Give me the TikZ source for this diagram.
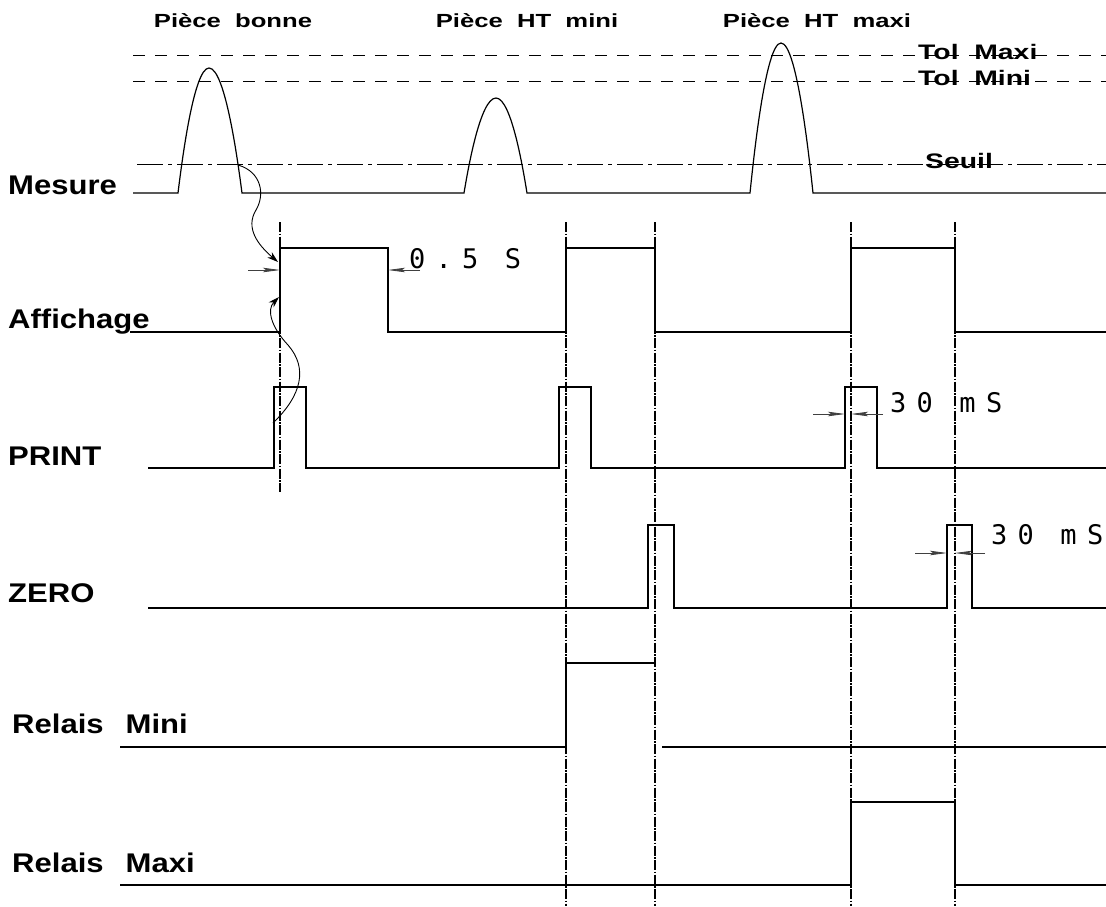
\documentclass[tikz,border=0pt]{standalone}
\usepackage{fontspec}
\newfontfamily\labfont{Liberation Sans}[FakeStretch=1.15]
\newfontfamily\topfont{Liberation Sans}[FakeStretch=1.35]
\newfontfamily\dimfont{DejaVu Sans Mono}[LetterSpace=38]
\usetikzlibrary{arrows.meta}

\begin{document}
\begin{tikzpicture}[x=1pt, y=-1pt,
  sig/.style={line width=1.2pt},
  tol/.style={line width=1pt, dash pattern=on 12pt off 10pt},
  seuil/.style={line width=1pt, dash pattern=on 26pt off 5pt on 4pt off 5pt},
  axe/.style={line width=1.5pt, dash pattern=on 10pt off 1.5pt on 1.5pt off 1.5pt},
  cote/.style={line width=0.8pt, black!75, -{Stealth[length=17pt,width=4.5pt,inset=3pt]}},
  renvoi/.style={line width=0.9pt, -{Stealth[length=11pt,width=7pt]}},
  signal/.style={font=\labfont\bfseries\fontsize{27}{27}\selectfont, anchor=base west, inner sep=0pt},
  piece/.style={font=\topfont\bfseries\fontsize{19}{19}\selectfont, anchor=base, inner sep=0pt},
  niveau/.style={font=\topfont\bfseries\fontsize{21}{21}\selectfont, anchor=base west, inner sep=0pt},
  valeur/.style={font=\dimfont\fontsize{27}{27}\selectfont, anchor=base west, inner sep=0pt}
]
  \fill[white] (0,0) rectangle (1106,906);
  \useasboundingbox (0,0) rectangle (1106,906);

  \node[piece] (pbon) at (233,27) {Pièce\ \ bonne};
  \node[piece] (pmin) at (527,27) {Pièce\ \ HT\ \ mini};
  \node[piece] (pmax) at (817,27) {Pièce\ \ HT\ \ maxi};

  \node[signal] (mes) at (8,194) {Mesure};
  \node[signal] (aff) at (8,328) {Affichage};
  \node[signal] (prt) at (8,465) {PRINT};
  \node[signal] (zer) at (8,602) {ZERO};
  \node[signal] (rmi) at (12,733) {Relais\hspace{22pt}Mini};
  \node[signal] (rma) at (12,872) {Relais\hspace{22pt}Maxi};

  \draw[tol] (133,55) -- (1106,55);
  \draw[tol] (133,81) -- (1106,81);
  \draw[seuil] (137,164) -- (1106,164);
  \node[niveau] (tmax) at (918,59) {Tol\ \ Maxi};
  \node[niveau] (tmin) at (918,85) {Tol\ \ Mini};
  \node[niveau] (seuil) at (925,168) {Seuil};

  \draw[sig] (133,193) -- (178,193) parabola bend (209,68) (242,193) -- (464,193)
    parabola bend (496,98) (527,193) -- (750,193) parabola bend (781,43) (813,193) -- (1106,193);
  \draw[sig] (130,332) -- (280,332) -- (280,248) -- (388,248) -- (388,332) -- (566,332) -- (566,248)
    -- (655,248) -- (655,332) -- (851,332) -- (851,248) -- (955,248) -- (955,332) -- (1106,332);
  \draw[sig] (148,468) -- (274,468) -- (274,387) -- (306,387) -- (306,468) -- (559,468) -- (559,387)
    -- (591,387) -- (591,468) -- (845,468) -- (845,387) -- (877,387) -- (877,468) -- (1106,468);
  \draw[sig] (148,608) -- (648,608) -- (648,525) -- (674,525) -- (674,608) -- (947,608) -- (947,525)
    -- (972,525) -- (972,608) -- (1106,608);
  \draw[sig] (120,747) -- (566,747) -- (566,663) -- (655,663);
  \draw[sig] (662,747) -- (1106,747);
  \draw[sig] (120,885) -- (851,885) -- (851,802) -- (955,802) -- (955,885) -- (1106,885);

  \draw[axe] (280,222) -- (280,492);
  \foreach \x in {566,655,851,955}
    \draw[axe] (\x,222) -- (\x,906);

  \draw[cote] (248,270) -- (280,270);
  \draw[cote] (420,270) -- (388,270);
  \node[valeur] (v05) at (409,268) {0.5 S};
  \draw[cote] (813,414) -- (845,414);
  \draw[cote] (883,414) -- (851,414);
  \node[valeur] (v30p) at (890,412) {30 mS};
  \draw[cote] (915,553) -- (947,553);
  \draw[cote] (985,553) -- (955,553);
  \node[valeur] (v30z) at (991,544) {30 mS};

  \coordinate (cs) at (238,165);
  \coordinate (ca) at (278,262);
  \coordinate (ps) at (273,423);
  \coordinate (pa) at (279,297);
  \draw[renvoi] (cs) .. controls (262,172) and (265,195) .. (256,210)
    .. controls (245,228) and (258,245) .. (ca);
  \draw[renvoi] (ps) .. controls (302,395) and (308,368) .. (288,345)
    .. controls (272,328) and (266,310) .. (pa);
\end{tikzpicture}
\end{document}
